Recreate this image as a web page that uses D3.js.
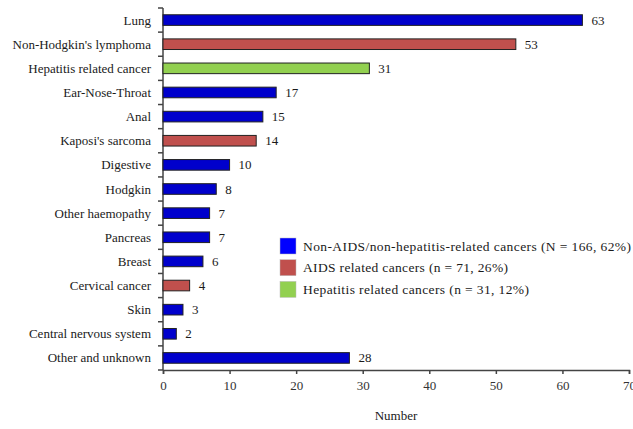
<!DOCTYPE html>
<html>
<head>
<meta charset="utf-8">
<script src="https://cdn.jsdelivr.net/npm/d3@7"></script>
<style>
  body { margin: 0; background: #fff; }
  svg { display: block; }
  svg text { font-family: 'Liberation Serif', 'Times New Roman', Times, 'DejaVu Serif', serif; fill: #1a1a1a; }
</style>
</head>
<body>
<svg id="chart" width="633" height="429"></svg>
<script>
// cancer types, top to bottom
var categories = ["Lung", "Non-Hodgkin's lymphoma", "Hepatitis related cancer", "Ear-Nose-Throat",
    "Anal", "Kaposi's sarcoma", "Digestive", "Hodgkin", "Other haemopathy", "Pancreas",
    "Breast", "Cervical cancer", "Skin", "Central nervous system", "Other and unknown"]
var counts = [63, 53, 31, 17, 15, 14, 10, 8, 7, 7, 6, 4, 3, 2, 28]
// 0 = non-AIDS/non-hepatitis, 1 = AIDS related, 2 = hepatitis related
var groups = [0, 1, 2, 0, 0, 1, 0, 0, 0, 0, 0, 1, 0, 0, 0]
var groupLabels = ["Non-AIDS/non-hepatitis-related cancers (N = 166, 62%)",
    "AIDS related cancers (n = 71, 26%)",
    "Hepatitis related cancers (n = 31, 12%)"]
var xTicks = [0, 10, 20, 30, 40, 50, 60, 70]

var barColors = ["#0000cc", "#c0504d", "#92d050"]
var legendColors = ["#0000ff", "#c0504d", "#92d050"]

;(function() {
    var svg = d3.select('#chart')
    var x0 = 163, x1 = 629, y0 = 8, y1 = 370

    var x = d3.scaleLinear().domain([0, 70]).range([x0, x1])
    var y = d3.scaleBand().domain(categories).range([y0, y1]).paddingInner(0.56).paddingOuter(0.28)

    // y axis, ticks sit between the bands
    var yEdges = d3.range(categories.length + 1).map(function(i) { return y0 + i * (y1 - y0) / categories.length })
    svg.append('line')
        .attr('x1', x0).attr('x2', x0).attr('y1', y0).attr('y2', y1)
        .attr('stroke', '#444').attr('stroke-width', 1.5)
    svg.selectAll('.ytick').data(yEdges).enter().append('line')
        .attr('class', 'ytick')
        .attr('x1', x0 - 5).attr('x2', x0)
        .attr('y1', function(d) { return d }).attr('y2', function(d) { return d })
        .attr('stroke', '#444').attr('stroke-width', 1.5)

    svg.selectAll('.ylabel').data(categories).enter().append('text')
        .attr('class', 'ylabel')
        .attr('x', x0 - 12)
        .attr('y', function(d) { return y(d) + y.bandwidth() / 2 })
        .attr('dy', '0.35em')
        .attr('text-anchor', 'end')
        .attr('font-size', 13)
        .text(function(d) { return d })

    // x axis
    var xAxis = svg.append('g')
        .attr('transform', 'translate(0,' + y1 + ')')
        .call(d3.axisBottom(x).tickValues(xTicks).tickSize(4).tickPadding(7))
    xAxis.attr('font-family', null)
    xAxis.select('.domain').attr('stroke', '#444').attr('stroke-width', 1.5)
    xAxis.selectAll('.tick line').attr('stroke', '#444').attr('stroke-width', 1.5)
    xAxis.selectAll('.tick text')
        .attr('font-size', 13)
        .style('fill', '#333')

    svg.append('text')
        .attr('x', (x0 + x1) / 2)
        .attr('y', 420)
        .attr('text-anchor', 'middle')
        .attr('font-size', 13)
        .text('Number')

    // bars
    svg.selectAll('.bar').data(categories).enter().append('rect')
        .attr('class', 'bar')
        .attr('x', x(0))
        .attr('y', function(d) { return y(d) })
        .attr('width', function(d, i) { return x(counts[i]) - x(0) })
        .attr('height', y.bandwidth())
        .attr('fill', function(d, i) { return barColors[groups[i]] })
        .attr('stroke', '#222')
        .attr('stroke-width', 1)

    svg.selectAll('.value').data(categories).enter().append('text')
        .attr('class', 'value')
        .attr('x', function(d, i) { return x(counts[i]) + 9 })
        .attr('y', function(d) { return y(d) + y.bandwidth() / 2 })
        .attr('dy', '0.35em')
        .attr('font-size', 13)
        .text(function(d, i) { return counts[i] })

    // legend
    var legendWidths = [328, 205, 226]
    var legend = svg.append('g').attr('transform', 'translate(280,238)')
    var rows = legend.selectAll('.row').data(groupLabels).enter().append('g')
        .attr('class', 'row')
        .attr('transform', function(d, i) { return 'translate(0,' + i * 21.7 + ')' })
    rows.append('rect')
        .attr('width', 16).attr('height', 16)
        .attr('fill', function(d, i) { return legendColors[i] })
        .attr('stroke', '#bbb').attr('stroke-width', 0.5)
    rows.append('text')
        .attr('x', 23).attr('y', 8)
        .attr('dy', '0.35em')
        .attr('font-size', 13.5)
        .attr('textLength', function(d, i) { return legendWidths[i] })
        .attr('lengthAdjust', 'spacing')
        .text(function(d) { return d })
})()
</script>
</body>
</html>
